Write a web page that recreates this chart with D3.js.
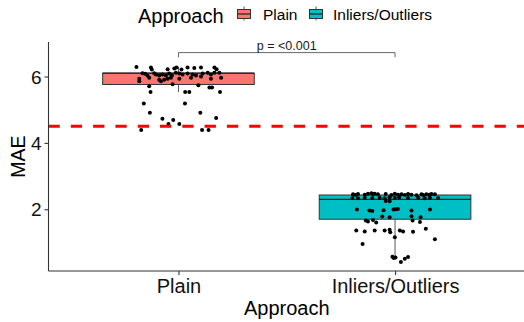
<!DOCTYPE html>
<html>
<head>
<meta charset="utf-8">
<script src="https://cdn.jsdelivr.net/npm/d3@7"></script>
<style>
  body { margin: 0; background: #fff; }
  svg { display: block; font-family: "Liberation Sans", Arial, sans-serif; }
</style>
</head>
<body>
<div id="chart"></div>
<script>
// categories and colours
const approaches = ['Plain', 'Inliers/Outliers'];
const fills = ['#F8766D', '#00BFC4'];

// box statistics
const q1 = [5.76, 1.70];
const median = [6.10, 2.30];
const q3 = [6.10, 2.43];
const whiskerLow = [5.53, 0.52];
const whiskerHigh = [6.29, 2.48];

const yTicks = [2, 4, 6];
const threshold = 4.5;
const pLabel = 'p = <0.001';

// jittered points: [jitter offset (category units), MAE]
const plainPoints = [
  [-0.194, 6.29], [-0.127, 6.27], [-0.123, 6.21], [-0.050, 6.22], [-0.019, 6.24],
  [-0.009, 6.27], [0.014, 6.21], [0.042, 6.27], [0.073, 6.26], [0.104, 6.27],
  [0.166, 6.27], [0.176, 6.22],
  [-0.166, 6.10], [-0.154, 6.08], [-0.143, 6.03], [-0.112, 6.10], [-0.104, 6.06],
  [-0.089, 6.03], [-0.074, 6.06], [-0.058, 6.03], [-0.043, 6.09], [-0.030, 6.03],
  [-0.012, 6.11], [0.004, 6.09], [0.019, 6.06], [0.042, 6.09], [0.065, 6.06],
  [0.081, 6.03], [0.112, 6.09], [0.135, 6.11], [0.150, 6.06], [0.166, 6.11],
  [0.189, 6.11],
  [-0.181, 5.93], [-0.181, 5.86], [-0.135, 5.96], [-0.089, 5.90], [-0.081, 5.86],
  [-0.066, 5.90], [-0.050, 5.93], [-0.035, 5.96], [0.004, 5.93], [0.058, 5.96],
  [0.104, 6.00], [0.150, 5.93], [0.197, 5.96],
  [-0.135, 5.71], [-0.027, 5.77], [0.092, 5.74], [0.143, 5.67], [0.155, 5.67],
  [-0.129, 5.53], [0.031, 5.53], [0.050, 5.53], [0.192, 5.53],
  [-0.160, 5.19], [0.030, 5.19], [-0.132, 4.91], [0.101, 4.91],
  [-0.074, 4.73], [-0.024, 4.69], [0.174, 4.75], [-0.046, 4.57], [0.004, 4.57],
  [-0.172, 4.39], [0.109, 4.39], [0.139, 4.39]
];

const inlierPoints = [
  [-0.194, 2.45], [-0.182, 2.43], [-0.171, 2.46], [-0.140, 2.44], [-0.125, 2.47],
  [-0.109, 2.48], [-0.102, 2.46], [-0.094, 2.47], [-0.079, 2.45], [-0.043, 2.46],
  [-0.017, 2.43], [-0.001, 2.47], [0.014, 2.44], [0.030, 2.45], [0.045, 2.43],
  [0.060, 2.46], [0.076, 2.44], [0.099, 2.42], [0.122, 2.45], [0.130, 2.43],
  [0.145, 2.45], [0.158, 2.44], [0.168, 2.46], [0.184, 2.45],
  [-0.197, 2.34], [-0.171, 2.33], [-0.140, 2.35], [-0.105, 2.34], [-0.071, 2.35],
  [-0.048, 2.33], [-0.025, 2.36], [-0.001, 2.34], [0.019, 2.36], [0.060, 2.34],
  [0.107, 2.35], [0.137, 2.33], [0.161, 2.35], [0.199, 2.34],
  [-0.043, 2.25], [-0.025, 2.24],
  [-0.176, 1.99], [-0.118, 1.96], [-0.105, 1.95], [-0.053, 1.97], [-0.007, 1.99],
  [0.002, 2.00], [0.013, 2.01], [0.076, 1.96], [0.161, 1.99],
  [-0.059, 1.78], [-0.025, 1.76], [0.076, 1.79], [0.118, 1.76],
  [-0.135, 1.66], [-0.125, 1.63], [-0.102, 1.68], [-0.087, 1.60], [0.081, 1.66], [0.115, 1.62],
  [-0.179, 1.36], [-0.140, 1.33], [-0.094, 1.36], [-0.048, 1.36], [-0.025, 1.38],
  [-0.022, 1.31], [0.022, 1.36], [0.037, 1.33], [0.083, 1.32], [0.142, 1.41],
  [-0.001, 1.16], [0.184, 1.10], [-0.150, 0.95],
  [-0.012, 0.57], [-0.006, 0.53], [0.002, 0.55], [0.045, 0.51], [0.060, 0.56],
  [0.027, 0.41]
];

const groups = [plainPoints, inlierPoints];

const width = 524;
const height = 322;
const panel = { left: 48.5, right: 525, top: 42, bottom: 271 };

const svg = d3.select('#chart').append('svg')
  .attr('width', width)
  .attr('height', height);

const x = d3.scaleLinear()
  .domain([0.4, 2.6])
  .range([panel.left, panel.right]);
const y = d3.scaleLinear()
  .domain([0.14, 7.04])
  .range([panel.bottom, panel.top]);

const axisColor = '#333333';
const boxWidth = 0.7;

// boxes
const boxes = svg.append('g').classed('boxes', true);
approaches.forEach((a, i) => {
  const cx = x(i + 1);
  const g = boxes.append('g');
  g.append('line')
    .attr('x1', cx).attr('x2', cx)
    .attr('y1', y(q1[i])).attr('y2', y(whiskerLow[i]))
    .attr('stroke', '#444').attr('stroke-width', 0.9);
  g.append('line')
    .attr('x1', cx).attr('x2', cx)
    .attr('y1', y(q3[i])).attr('y2', y(whiskerHigh[i]))
    .attr('stroke', '#444').attr('stroke-width', 0.9);
  g.append('rect')
    .attr('x', x(i + 1 - boxWidth / 2))
    .attr('width', x(i + 1 + boxWidth / 2) - x(i + 1 - boxWidth / 2))
    .attr('y', y(q3[i]))
    .attr('height', y(q1[i]) - y(q3[i]))
    .attr('fill', fills[i])
    .attr('stroke', '#333').attr('stroke-width', 1);
  g.append('line')
    .attr('x1', x(i + 1 - boxWidth / 2)).attr('x2', x(i + 1 + boxWidth / 2))
    .attr('y1', y(median[i])).attr('y2', y(median[i]))
    .attr('stroke', '#222').attr('stroke-width', 1.3);
});

// jittered points
const pts = svg.append('g').classed('points', true);
groups.forEach((data, i) => {
  pts.selectAll(null)
    .data(data)
    .enter()
    .append('circle')
    .attr('cx', d => x(i + 1 + d[0]))
    .attr('cy', d => y(d[1]))
    .attr('r', 2)
    .attr('fill', '#000');
});

// threshold line
svg.append('line')
  .attr('x1', panel.left).attr('x2', width)
  .attr('y1', y(threshold)).attr('y2', y(threshold))
  .attr('stroke', '#ff0000')
  .attr('stroke-width', 3)
  .attr('stroke-dasharray', '11.3,11');

// significance bracket
const bracketY = y(6.72);
const tipY = y(6.58);
svg.append('path')
  .attr('d', `M${x(1)},${tipY}V${bracketY}H${x(2)}V${tipY}`)
  .attr('fill', 'none')
  .attr('stroke', '#555')
  .attr('stroke-width', 0.9);
svg.append('text')
  .attr('x', (x(1) + x(2)) / 2)
  .attr('y', bracketY - 2.5)
  .attr('text-anchor', 'middle')
  .attr('font-size', 12.5)
  .attr('fill', '#1a1a1a')
  .text(pLabel);

// axes
const yAxis = d3.axisLeft(y).tickValues(yTicks).tickSize(4).tickPadding(3)
  .tickFormat(d3.format('d'));
const yg = svg.append('g')
  .attr('transform', `translate(${panel.left},0)`)
  .call(yAxis);
yg.select('.domain').attr('d', `M0,${panel.top}V${panel.bottom}`);

const xAxis = d3.axisBottom(x).tickValues([1, 2]).tickSize(4).tickPadding(4)
  .tickFormat(d => approaches[d - 1]);
const xg = svg.append('g')
  .attr('transform', `translate(0,${panel.bottom})`)
  .call(xAxis);
xg.select('.domain').attr('d', `M${panel.left},0H${width}`);

[yg, xg].forEach(g => {
  g.selectAll('.domain').attr('stroke', axisColor).attr('stroke-width', 1.1);
  g.selectAll('.tick line').attr('stroke', axisColor).attr('stroke-width', 1.1);
  g.selectAll('.tick text')
    .attr('fill', '#111')
    .attr('font-family', '"Liberation Sans", Arial, sans-serif');
});
yg.selectAll('.tick text').attr('font-size', 19).attr('dy', '0.35em');
xg.selectAll('.tick text').attr('font-size', 20);

// axis titles
svg.append('text')
  .attr('x', (x(1) + x(2)) / 2)
  .attr('y', 315)
  .attr('text-anchor', 'middle')
  .attr('font-size', 20)
  .attr('fill', '#000')
  .text('Approach');
svg.append('text')
  .attr('transform', `translate(25,${(panel.top + panel.bottom) / 2}) rotate(-90)`)
  .attr('text-anchor', 'middle')
  .attr('font-size', 19.5)
  .attr('fill', '#000')
  .text('MAE');

// legend
const legend = svg.append('g').classed('legend', true);
legend.append('text')
  .attr('x', 138)
  .attr('y', 23)
  .attr('font-size', 20)
  .attr('fill', '#000')
  .text('Approach');
const keyX = [237.5, 309.5];
const labelX = [263, 333];
approaches.forEach((a, i) => {
  const k = legend.append('g').attr('transform', `translate(${keyX[i]},0)`);
  k.append('line')
    .attr('x1', 6.6).attr('x2', 6.6).attr('y1', 6.5).attr('y2', 20.5)
    .attr('stroke', '#444').attr('stroke-width', 0.9);
  k.append('rect')
    .attr('x', 0).attr('y', 9.5).attr('width', 13).attr('height', 9)
    .attr('fill', fills[i]).attr('stroke', '#333').attr('stroke-width', 1);
  k.append('line')
    .attr('x1', 0).attr('x2', 13).attr('y1', 14).attr('y2', 14)
    .attr('stroke', '#222').attr('stroke-width', 1.2);
  legend.append('text')
    .attr('x', labelX[i])
    .attr('y', 20)
    .attr('font-size', 15.5)
    .attr('fill', '#000')
    .text(a);
});
</script>
</body>
</html>
